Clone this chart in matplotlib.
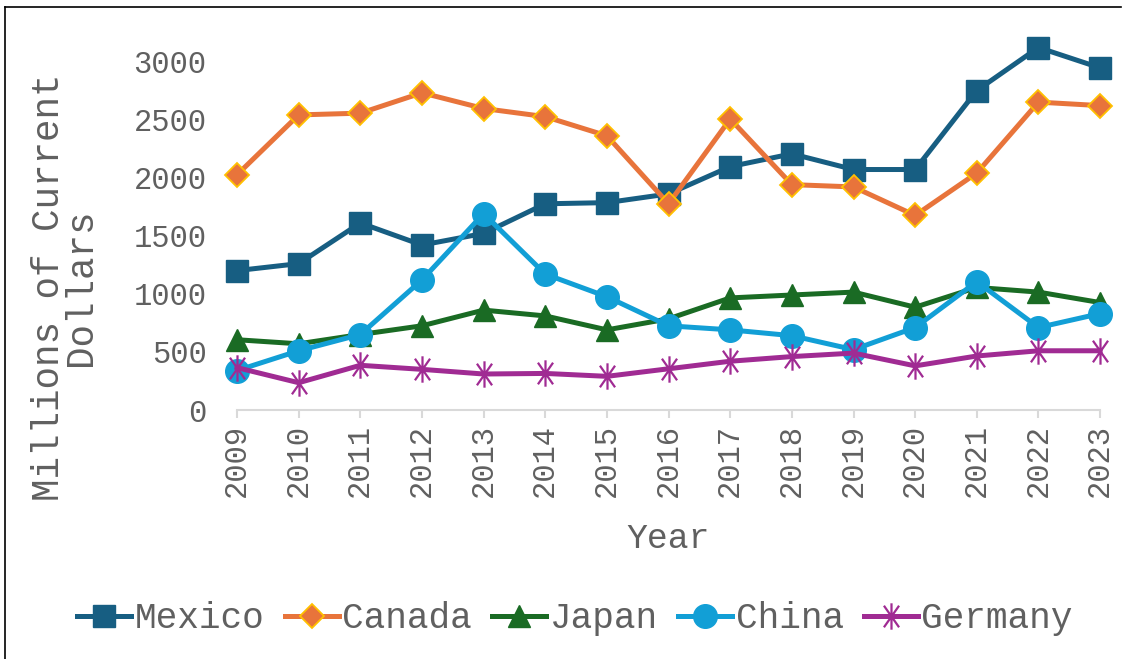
import numpy as np
import matplotlib.pyplot as plt
from matplotlib.path import Path
from matplotlib.lines import Line2D

years = list(range(2009, 2024))

mexico = [1200, 1260, 1610, 1420, 1520, 1775, 1785, 1860, 2095, 2205, 2070, 2070, 2750, 3120, 2945]
canada = [2025, 2540, 2555, 2730, 2595, 2525, 2360, 1775, 2505, 1940, 1920, 1675, 2040, 2650, 2620]
japan = [605, 570, 650, 725, 860, 810, 690, 785, 965, 990, 1015, 885, 1055, 1015, 925]
china = [340, 510, 650, 1120, 1690, 1170, 975, 725, 690, 640, 520, 710, 1105, 710, 830]
germany = [365, 235, 385, 350, 310, 315, 290, 355, 420, 460, 490, 380, 465, 510, 510]

names = ["Mexico", "Canada", "Japan", "China", "Germany"]

txt = "#606060"
plt.rcParams['font.family'] = ['Liberation Mono', 'DejaVu Sans Mono']

# six-armed asterisk marker
a = np.deg2rad(55)
star = Path([(0, -1), (0, 1),
             (-np.cos(a), -np.sin(a)), (np.cos(a), np.sin(a)),
             (-np.cos(a), np.sin(a)), (np.cos(a), -np.sin(a))],
            [Path.MOVETO, Path.LINETO, Path.MOVETO, Path.LINETO, Path.MOVETO, Path.LINETO])

fig = plt.figure(figsize=(11.26, 6.59), dpi=100)
ax = fig.add_axes([0.2105, 0.3778, 0.7665, 0.5642])

lw = 3.6
ax.plot(years, mexico, color="#175E82", lw=lw, marker="s", ms=16, label="Mexico", clip_on=False, zorder=3)
ax.plot(years, canada, color="#E8743B", lw=lw, marker="D", ms=12, mfc="#E8743B", mec="#FFC000", mew=1.3,
        label="Canada", clip_on=False, zorder=3)
ax.plot(years, japan, color="#1A6B24", lw=lw, marker="^", ms=16, label="Japan", clip_on=False, zorder=3)
ax.plot(years, china, color="#129FD6", lw=lw, marker="o", ms=17, label="China", clip_on=False, zorder=3)
ax.plot(years, germany, color="#A02B93", lw=lw, marker=star, ms=19, mew=1.6, label="Germany",
        clip_on=False, zorder=3)

ax.set_xlim(2009, 2023)
ax.set_ylim(0, 3200)
ax.set_yticks(range(0, 3001, 500))
ax.set_xticks(years)
ax.set_xticklabels([str(y) for y in years], rotation=90)

for s in ["top", "right", "left"]:
    ax.spines[s].set_visible(False)
ax.spines["bottom"].set_color("#D9D9D9")
ax.spines["bottom"].set_linewidth(1.5)

ax.tick_params(axis="y", length=0, pad=22, labelsize=22, labelcolor=txt)
ax.tick_params(axis="x", length=6, width=1.5, color="#D9D9D9", pad=4, labelsize=22, labelcolor=txt)

ax.set_ylabel("Millions of Current\nDollars", fontsize=27, color=txt, multialignment="center",
              linespacing=0.85)
ax.yaxis.set_label_coords(-0.16, 0.33)
ax.set_xlabel("Year", fontsize=25, color=txt)
ax.xaxis.set_label_coords(0.5, -0.30)

fig.legend(loc="center", bbox_to_anchor=(575 / 1126, 1 - 619 / 659), ncol=5, frameon=False,
           fontsize=26, labelcolor=txt, handlelength=1.5, handletextpad=0.1, columnspacing=0.55)

# frame lines (top and left only)
fig.add_artist(Line2D([5 / 1126, 1121 / 1126], [1 - 7 / 659, 1 - 7 / 659], color="black", lw=1.2))
fig.add_artist(Line2D([5 / 1126, 5 / 1126], [0, 1 - 7 / 659], color="black", lw=1.2))

plt.savefig("out.png", dpi=100)
